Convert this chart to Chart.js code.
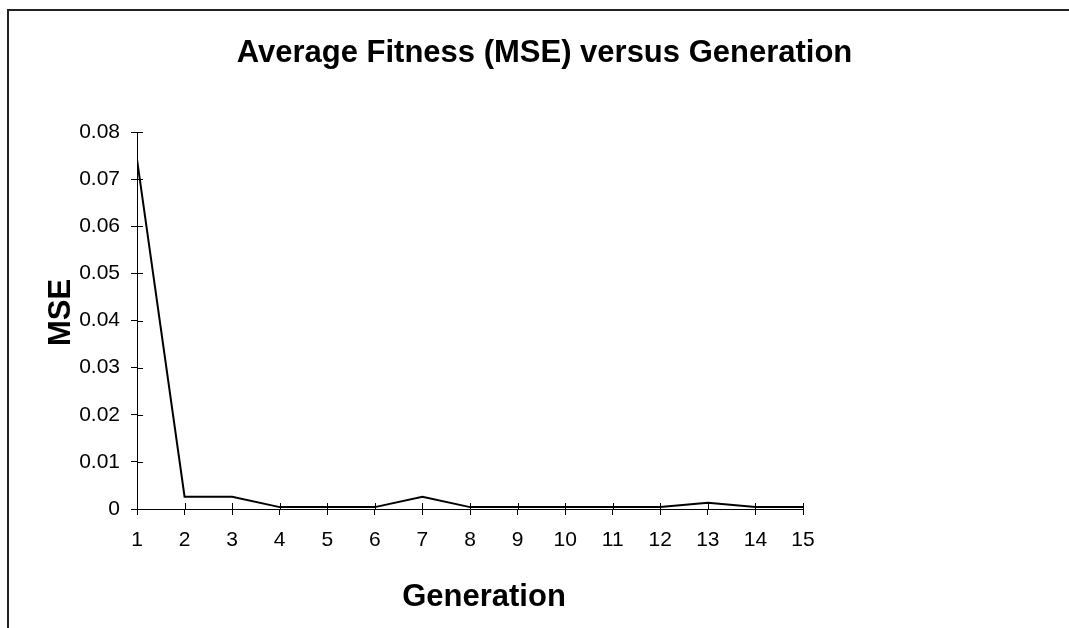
<!DOCTYPE html>
<html>
<head>
<meta charset="utf-8">
<script src="https://cdn.jsdelivr.net/npm/chart.js@4"></script>
<style>
  html, body { margin: 0; padding: 0; background: #fff; }
  canvas { display: block; }
</style>
</head>
<body>
<canvas id="chart" width="1069" height="628"></canvas>
<script>
const generations = [1, 2, 3, 4, 5, 6, 7, 8, 9, 10, 11, 12, 13, 14, 15];
const mseValues = [0.0742, 0.0026, 0.0026, 0.0004, 0.0004, 0.0004, 0.0026, 0.0004, 0.0004, 0.0004, 0.0004, 0.0004, 0.0013, 0.0004, 0.0004];
const titleText = "Average Fitness (MSE) versus Generation";
const xTitleText = "Generation";
const yTitleText = "MSE";

const FONT = "'Liberation Sans', Arial, sans-serif";

// frame + centred texts, drawn on the canvas
const decorPlugin = {
  id: "decor",
  beforeDraw(chart) {
    const ctx = chart.ctx;
    ctx.save();
    ctx.strokeStyle = "#222";
    ctx.lineWidth = 2;
    ctx.beginPath();
    ctx.moveTo(8, 640);
    ctx.lineTo(8, 10);
    ctx.lineTo(1080, 10);
    ctx.stroke();
    ctx.restore();
  },
  afterDraw(chart) {
    const ctx = chart.ctx;
    const area = chart.chartArea;
    ctx.save();
    ctx.fillStyle = "#000";
    ctx.font = "bold 31px " + FONT;
    ctx.textAlign = "center";
    ctx.textBaseline = "alphabetic";
    ctx.fillText(titleText, 544.5, 61.5);
    ctx.fillText(xTitleText, 484, 605.5);
    ctx.translate(70, 312.5);
    ctx.rotate(-Math.PI / 2);
    ctx.fillText(yTitleText, 0, 0);
    ctx.restore();

    // inner half of the crossing tick marks
    const xs = chart.scales.x;
    const ys = chart.scales.y;
    ctx.save();
    ctx.strokeStyle = "#000";
    ctx.lineWidth = 1;
    ctx.beginPath();
    ys.ticks.forEach((t) => {
      const py = Math.round(ys.getPixelForValue(t.value)) + 0.5;
      ctx.moveTo(area.left, py);
      ctx.lineTo(area.left + 6, py);
    });
    xs.ticks.forEach((t) => {
      const px = Math.round(xs.getPixelForValue(t.value)) + 0.5;
      ctx.moveTo(px, area.bottom);
      ctx.lineTo(px, area.bottom - 6);
    });
    ctx.stroke();
    ctx.restore();
  },
};

new Chart(document.getElementById("chart"), {
  type: "line",
  data: {
    labels: generations,
    datasets: [
      {
        label: yTitleText,
        data: generations.map((g, i) => ({ x: g, y: mseValues[i] })),
        borderColor: "#000",
        borderWidth: 2,
        pointRadius: 0,
        tension: 0,
        fill: false,
      },
    ],
  },
  options: {
    responsive: false,
    animation: false,
    devicePixelRatio: 1,
    layout: { padding: { top: 132, left: 0, right: 266, bottom: 0 } },
    scales: {
      x: {
        type: "linear",
        min: 1,
        max: 15,
        afterFit: (scale) => { scale.height = 119; },
        grid: { drawOnChartArea: false, drawTicks: true, tickLength: 6, color: "#000" },
        border: { display: true, color: "#000", width: 1 },
        ticks: {
          stepSize: 1,
          padding: 13,
          color: "#000",
          font: { family: FONT, size: 21 },
          maxRotation: 0,
        },
      },
      y: {
        type: "linear",
        min: 0,
        max: 0.08,
        afterFit: (scale) => { scale.width = 137; },
        grid: { drawOnChartArea: false, drawTicks: true, tickLength: 6, color: "#000" },
        border: { display: true, color: "#000", width: 1 },
        ticks: {
          stepSize: 0.01,
          padding: 11,
          color: "#000",
          font: { family: FONT, size: 21 },
          callback: (v) => (Math.abs(v) < 1e-9 ? "0" : v.toFixed(2)),
        },
      },
    },
    plugins: {
      legend: { display: false },
      title: { display: false },
      tooltip: { enabled: false },
    },
  },
  plugins: [decorPlugin],
});
</script>
</body>
</html>
